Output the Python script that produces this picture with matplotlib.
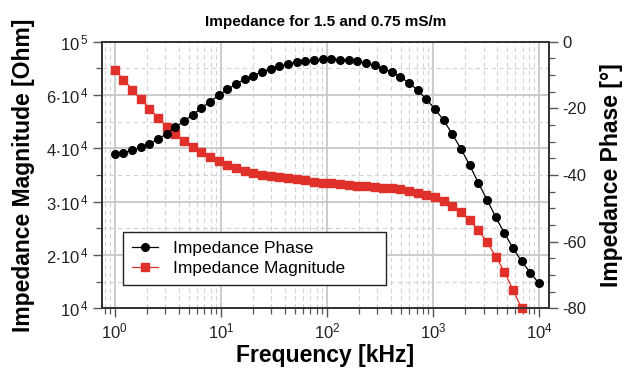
import numpy as np
import matplotlib
matplotlib.use("Agg")
from matplotlib import pyplot as plt
from matplotlib.ticker import FixedLocator, FixedFormatter, LogLocator, MultipleLocator

plt.rcParams['font.family'] = ['Liberation Sans', 'DejaVu Sans']
plt.rcParams['mathtext.fontset'] = 'custom'
plt.rcParams['mathtext.rm'] = 'Liberation Sans'
plt.rcParams['mathtext.default'] = 'regular'
plt.rcParams['axes.unicode_minus'] = False

# frequency in kHz, 50 log-spaced points from 1 to 10^4
freq = np.logspace(0, 4, 50)

phase = [-33.8, -33.3, -32.6, -31.7, -30.6, -29.2, -27.6, -25.6, -23.8, -21.9,
         -19.9, -18.0, -16.1, -14.3, -12.7, -11.3, -10.2, -9.0, -8.2, -7.3,
         -6.8, -6.2, -5.8, -5.5, -5.3, -5.3, -5.4, -5.6, -5.9, -6.5,
         -7.1, -8.1, -9.2, -10.6, -12.4, -14.6, -17.3, -20.3, -23.6, -27.8,
         -32.2, -37.1, -42.4, -47.4, -52.6, -57.4, -61.9, -65.9, -69.3, -72.5]

magnitude = [76360, 69600, 63200, 58050, 54060, 50490, 47210, 44670, 42420, 40430,
             39150, 38180, 37280, 36610, 36020, 35440, 35060, 34730, 34430, 34240,
             34120, 33930, 33720, 33440, 33260, 33150, 32970, 32850, 32730, 32620,
             32490, 32370, 32270, 32090, 31800, 31510, 31160, 30730, 30070, 29100,
             27670, 26020, 24110, 22040, 19590, 16100, 12720, 10000]

mag_ticks = [1e4, 2e4, 3e4, 4e4, 6e4, 1e5]
mag_labels = [r'$10^{\,4}$', r'$2{\cdot}10^{\,4}$', r'$3{\cdot}10^{\,4}$',
              r'$4{\cdot}10^{\,4}$', r'$6{\cdot}10^{\,4}$', r'$10^{\,5}$']

# the magnitude axis puts its labels at equal spacing
tick_log = np.log10(mag_ticks)
tick_pos = np.arange(len(mag_ticks), dtype=float)


def fwd(v):
    lv = np.log10(np.clip(np.asarray(v, dtype=float), 1e-12, None))
    return np.interp(lv, tick_log, tick_pos)


def inv(p):
    return 10 ** np.interp(np.asarray(p, dtype=float), tick_pos, tick_log)


red = '#e0302a'
grid_c = '#c4c4c4'
spine_c = '#333333'

fig = plt.figure(figsize=(6.27, 3.72), dpi=100)
ax = fig.add_axes([0.162, 0.171, 0.714, 0.717])
ax2 = ax.twinx()

ax.set_xscale('log')
ax.set_yscale('function', functions=(fwd, inv))
ax.set_xlim(0.75, 1.25e4)
ax.set_ylim(1e4, 1e5)
ax2.set_ylim(-80, 0)

ln_mag, = ax.plot(freq[:len(magnitude)], magnitude, color=red, marker='s', ms=5.5,
                  lw=0.9, label='Impedance Magnitude', clip_on=False, zorder=3)
ln_ph, = ax2.plot(freq, phase, color='black', marker='o', ms=5.5, lw=0.9,
                  label='Impedance Phase', zorder=3)

ax.yaxis.set_major_locator(FixedLocator(mag_ticks))
ax.yaxis.set_major_formatter(FixedFormatter(mag_labels))
ax.yaxis.set_minor_locator(FixedLocator(inv(tick_pos[:-1] + 0.5)))
ax.yaxis.set_minor_formatter(FixedFormatter([''] * 5))

ax.xaxis.set_major_locator(LogLocator(base=10, numticks=10))
ax.xaxis.set_minor_locator(LogLocator(base=10, subs=np.arange(2, 10), numticks=10))

ax2.yaxis.set_major_locator(MultipleLocator(20))
ax2.yaxis.set_minor_locator(MultipleLocator(5))

ax.grid(True, which='major', color=grid_c, lw=1.2, ls='-')
ax.grid(True, which='minor', color='#d2d2d2', lw=0.8, ls=(0, (4, 3)))
ax.set_axisbelow(True)

for a in (ax, ax2):
    for s in a.spines.values():
        s.set_color(spine_c)
        s.set_linewidth(1.3)
    a.tick_params(which='major', length=6.5, width=1.0, color='#555555',
                  labelsize=12, labelcolor='#222222', pad=3)
    a.tick_params(which='minor', length=4, width=0.9, color='#555555')

ax.set_xlabel('Frequency [kHz]', fontsize=16.5, fontweight='bold', labelpad=2)
ax.set_ylabel('Impedance Magnitude [Ohm]', fontsize=16.5, fontweight='bold', labelpad=8)
ax2.set_ylabel('Impedance Phase [°]', fontsize=16.5, fontweight='bold', labelpad=10)
ax.set_title('Impedance for 1.5 and 0.75 mS/m', fontsize=11, fontweight='bold', pad=11)

leg = ax.legend([ln_ph, ln_mag], ['Impedance Phase', 'Impedance Magnitude'],
                loc='lower left', bbox_to_anchor=(0.048, 0.088, 0.587, 0.2),
                mode='expand', borderaxespad=0,
                fontsize=12.5, fancybox=False, framealpha=1, edgecolor='#222222',
                handlelength=1.5, handletextpad=0.85, labelspacing=0.3,
                borderpad=0.5)
leg.get_frame().set_linewidth(1.0)

fig.savefig('out.png', dpi=100)
